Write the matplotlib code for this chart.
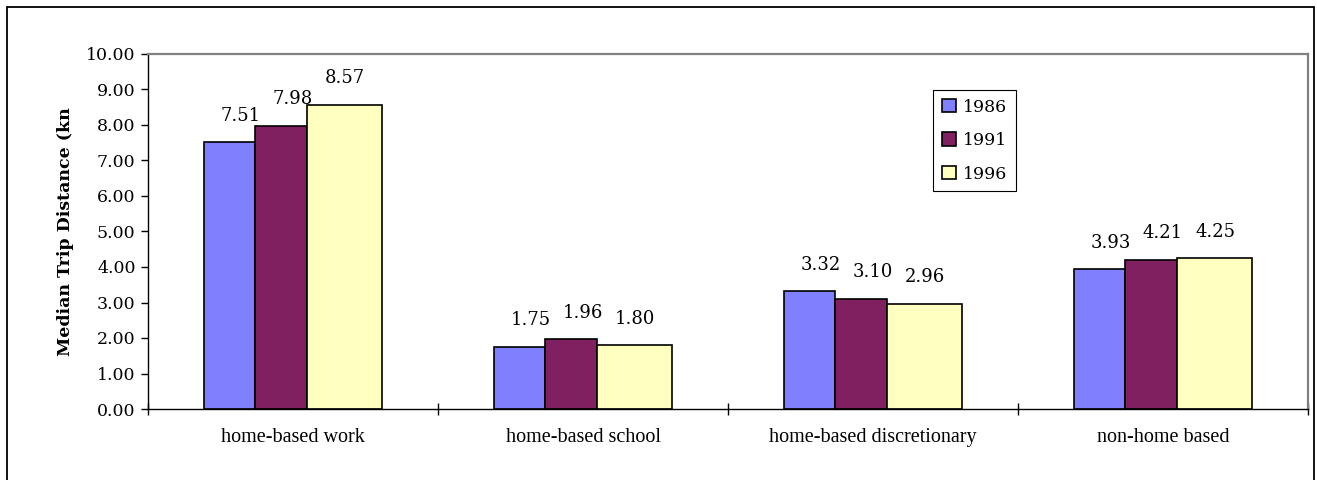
import matplotlib.pyplot as plt
from matplotlib.patches import Rectangle
import numpy as np

categories = ['home-based work', 'home-based school', 'home-based discretionary', 'non-home based']
years = ['1986', '1991', '1996']
v1986 = [7.51, 1.75, 3.32, 3.93]
v1991 = [7.98, 1.96, 3.10, 4.21]
v1996 = [8.57, 1.80, 2.96, 4.25]

colors = ['#8080FF', '#802060', '#FFFFC0']
widths = [0.175, 0.178, 0.258]
label_offsets = [-0.18, 0.0, 0.18]

fig = plt.figure(figsize=(13.17, 4.8), dpi=100)
ax = fig.add_axes([148 / 1317, 1 - 409 / 480, 1160 / 1317, 355 / 480])

x = np.arange(len(categories))
series = [v1986, v1991, v1996]
start = x - sum(widths) / 2
left = start.copy()
for vals, w, c, yr, off in zip(series, widths, colors, years, label_offsets):
    ax.bar(left, vals, width=w, align='edge', color=c, edgecolor='black', linewidth=1.2, label=yr)
    for xi, v in zip(x, vals):
        ax.annotate('%.2f' % v, (xi + off, v), xytext=(0, 15.5), textcoords='offset points',
                    ha='center', va='baseline', fontsize=13, family='DejaVu Serif')
    left = left + w

ax.set_xlim(-0.5, len(categories) - 0.5)
ax.set_ylim(0, 10)
ax.set_yticks(np.arange(0, 11, 1))
ax.set_yticklabels(['%.2f' % t for t in np.arange(0, 11, 1)], family='DejaVu Serif', fontsize=12.5)
ax.tick_params(axis='y', direction='out', length=5, width=1, pad=4)

ax.set_xticks(np.arange(-0.5, len(categories), 1.0))
ax.set_xticklabels([])
ax.tick_params(axis='x', which='major', direction='inout', length=9, width=1)
ax.set_xticks(x, minor=True)
ax.set_xticklabels(categories, minor=True, family='Liberation Serif', fontsize=14.5)
ax.tick_params(axis='x', which='minor', length=0, pad=14)

ax.set_ylabel('Median Trip Distance (kn', family='DejaVu Serif', fontweight='bold', fontsize=12.5, labelpad=9)

for s in ['top', 'right']:
    ax.spines[s].set_color('#808080')
    ax.spines[s].set_linewidth(1.6)
for s in ['left', 'bottom']:
    ax.spines[s].set_color('black')
    ax.spines[s].set_linewidth(1.0)

leg = ax.legend(loc='upper left', bbox_to_anchor=(0.677, 0.899), fancybox=False, shadow=False,
                framealpha=1, edgecolor='black', prop={'family': 'DejaVu Serif', 'size': 12.5},
                handlelength=0.8, handleheight=0.8, handletextpad=0.4, labelspacing=0.95,
                borderpad=0.5, borderaxespad=0)
leg.get_frame().set_linewidth(0.8)

fig.patches.append(Rectangle((7 / 1317, -0.1), 1307 / 1317, 1.1 - 7 / 480, transform=fig.transFigure,
                             fill=False, edgecolor='black', linewidth=1.3))

plt.savefig('out.png', dpi=100)
plt.close()
